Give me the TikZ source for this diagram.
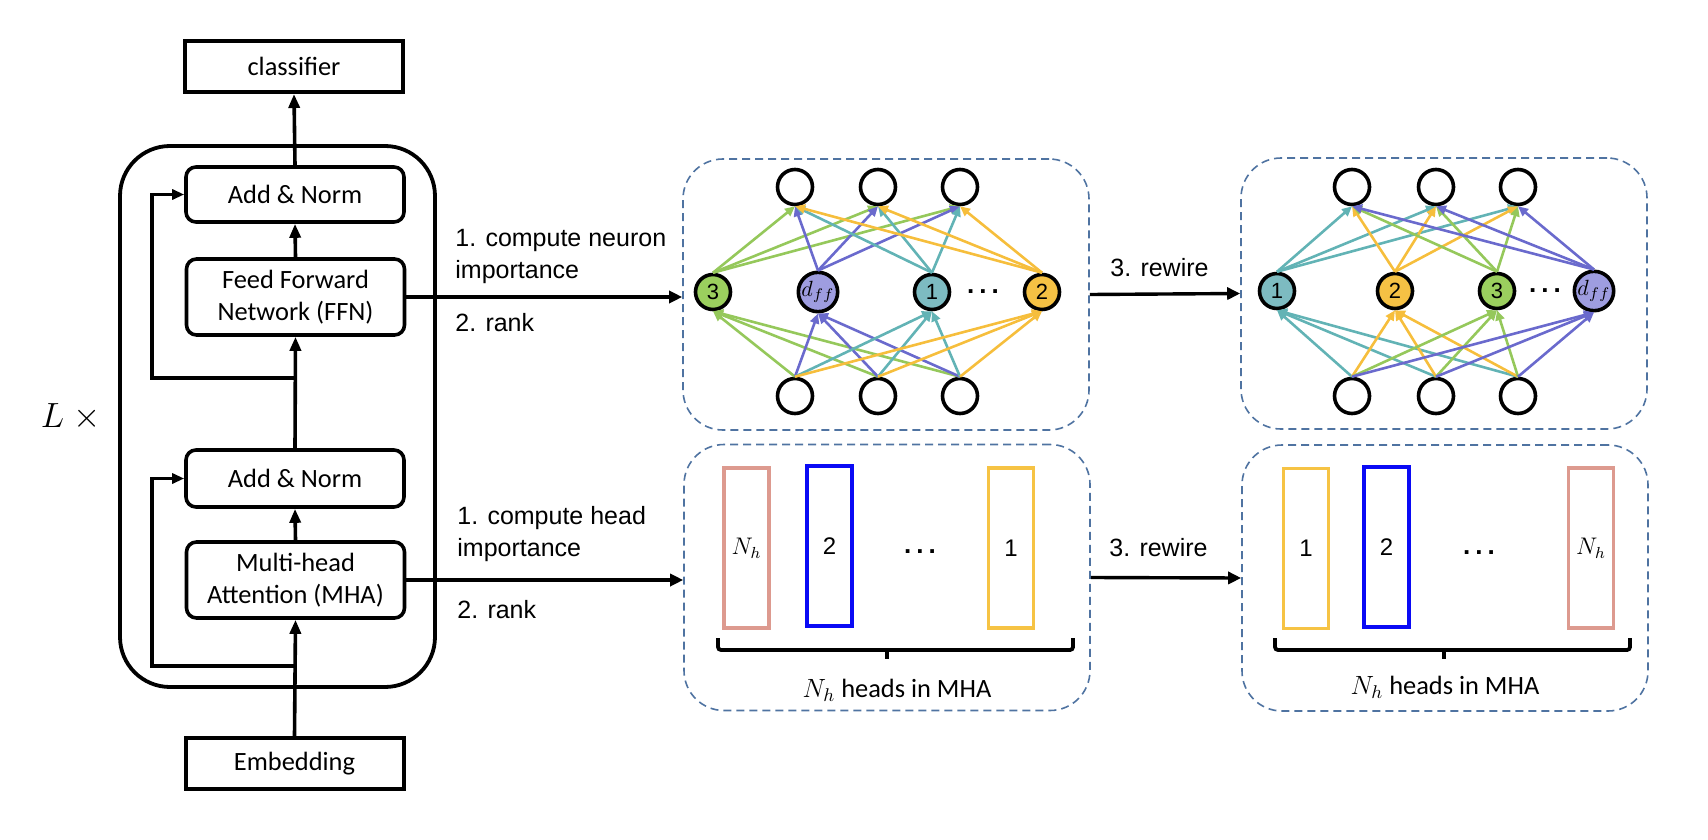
\RequirePackage{fix-cm}
\documentclass[tikz,border=0pt]{standalone}
\usepackage{fontspec}
\setmainfont{Liberation Sans}
\newfontfamily\calibri{Carlito}
\usetikzlibrary{arrows.meta}
\definecolor{egreen}{HTML}{95C85B}
\definecolor{epurple}{HTML}{6A6ACD}
\definecolor{eteal}{HTML}{62B3B5}
\definecolor{eyellow}{HTML}{F6BE3C}
\definecolor{fgreen}{HTML}{9BCF5E}
\definecolor{fpurple}{HTML}{9E9DE0}
\definecolor{fteal}{HTML}{7DBBC1}
\definecolor{fyellow}{HTML}{F5C144}
\definecolor{dashblue}{HTML}{4F73A1}
\definecolor{hsalmon}{HTML}{DD9A8F}
\definecolor{hblue}{HTML}{0A0AF5}
\definecolor{hyellow}{HTML}{F6C344}
\begin{document}
\begin{tikzpicture}[x=0.5pt,y=-0.5pt,
 blk/.style={draw,line width=1.8pt,rounded corners=5pt,minimum width=109pt,inner sep=0pt,align=center,font=\calibri\fontsize{13.2}{16}\selectfont},
 sq/.style={blk,rounded corners=0pt,line width=2pt},
 barr/.style={line width=1.8pt,-{Triangle[length=7pt,width=5.5pt]}},
 sarr/.style={line width=1.7pt,-{Triangle[length=6pt,width=5pt]}},
 parr/.style={line width=1.7pt,-{Triangle[length=6.5pt,width=6pt]}},
 panel/.style={draw=dashblue,line width=0.8pt,dash pattern=on 4pt off 2.5pt,rounded corners=20pt,minimum width=203pt,minimum height=135.5pt,inner sep=0pt},
 nd/.style={circle,draw,line width=1.8pt,minimum size=17.5pt,inner sep=0pt,font=\fontsize{11}{12}\selectfont},
 ed/.style={line width=1.3pt,-{Triangle[length=5pt,width=4.5pt]}},
 hd/.style={draw,line width=1.9pt,minimum width=22.5pt,minimum height=80pt,inner sep=0pt,font=\fontsize{12}{14}\selectfont},
 lbl/.style={font=\fontsize{12.5}{16}\selectfont,align=left,inner sep=0pt,anchor=west},
 dotsty/.style={font=\bfseries\fontsize{13}{13}\selectfont,inner sep=0pt},
 bracesty/.style={line width=1.9pt,rounded corners=1.5pt},
 hlab/.style={font=\calibri\fontsize{13.2}{16}\selectfont,inner sep=0pt}
]
\useasboundingbox (0,0) rectangle (1708,840);

% ---------- transformer block ----------
\node[sq,minimum height=25.5pt] (cls) at (294,66.5) {classifier};
\node[draw,line width=1.9pt,rounded corners=25pt,minimum width=157.5pt,minimum height=270.5pt,inner sep=0pt] (outer) at (277.5,416.5) {};
\node[blk,minimum height=27.5pt] (an1) at (295,194.5) {Add \& Norm};
\node[blk,minimum height=38pt] (ffn) at (295.5,297) {Feed Forward\\Network (FFN)};
\node[blk,minimum height=28.5pt] (an2) at (295,478.5) {Add \& Norm};
\node[blk,minimum height=38pt] (mha) at (295.5,580) {Multi-head\\Attention (MHA)};
\node[sq,minimum height=25.5pt] (emb) at (294.5,763.5) {Embedding};
\node[font=\fontsize{17.5}{20}\selectfont] (lx) at (71,417) {$L\;\times$};

\draw[barr] (emb.north) -- (mha.south);
\draw[barr] (mha.north) -- (an2.south);
\draw[barr] (an2.north) -- (ffn.south);
\draw[barr] (ffn.north) -- (an1.south);
\draw[barr] (an1.north) -- (cls.south);
\coordinate (s1) at (295,378);
\coordinate (k1) at (152,378);
\draw[sarr] (s1) -- (k1) |- (an1.west);
\coordinate (s2) at (295,666);
\coordinate (k2) at (152,666);
\draw[sarr] (s2) -- (k2) |- (an2.west);

% ---------- panels ----------
\node[panel] (p1) at (886,294.5) {};
\node[panel] (p2) at (1444,293.5) {};
\node[panel,minimum height=133pt] (h1) at (887,577.5) {};
\node[panel,minimum height=133pt] (h2) at (1445,578) {};

% ---------- network before rewire ----------
\node[nd] (p1t1) at (795,187) {};
\node[nd] (p1t2) at (878,187) {};
\node[nd] (p1t3) at (960,187) {};
\node[nd] (p1b1) at (795,396) {};
\node[nd] (p1b2) at (878,396) {};
\node[nd] (p1b3) at (960,396) {};
\node[nd,fill=fgreen] (p1m3) at (713,292) {3};
\node[nd,fill=fpurple,font=\fontsize{11}{12}\selectfont] (p1md) at (818,292) {$d_{ff}$};
\node[nd,fill=fteal] (p1m1) at (932,292) {1};
\node[nd,fill=fyellow] (p1m2) at (1042,292) {2};
\node[dotsty] (p1dots) at (983,292) {.\hspace{2.5pt}.\hspace{2.5pt}.};
\foreach \m/\c in {p1m3/egreen,p1md/epurple,p1m1/eteal,p1m2/eyellow}{
  \foreach \t in {p1t1,p1t2,p1t3}{\draw[ed,\c] (\m.north) -- (\t.south);}
  \foreach \b in {p1b1,p1b2,p1b3}{\draw[ed,\c] (\b.north) -- (\m.south);}
}

% ---------- network after rewire ----------
\node[nd] (p2t1) at (1352,187) {};
\node[nd] (p2t2) at (1436,187) {};
\node[nd] (p2t3) at (1518,187) {};
\node[nd] (p2b1) at (1352,396) {};
\node[nd] (p2b2) at (1436,396) {};
\node[nd] (p2b3) at (1518,396) {};
\node[nd,fill=fteal] (p2m1) at (1277,291) {1};
\node[nd,fill=fyellow] (p2m2) at (1395,291) {2};
\node[nd,fill=fgreen] (p2m3) at (1497,291) {3};
\node[nd,fill=fpurple,font=\fontsize{11}{12}\selectfont] (p2md) at (1594,291) {$d_{ff}$};
\node[dotsty] (p2dots) at (1545,291) {.\hspace{2.5pt}.\hspace{2.5pt}.};
\foreach \m/\c in {p2m1/eteal,p2m2/eyellow,p2m3/egreen,p2md/epurple}{
  \foreach \t in {p2t1,p2t2,p2t3}{\draw[ed,\c] (\m.north) -- (\t.south);}
  \foreach \b in {p2b1,p2b2,p2b3}{\draw[ed,\c] (\b.north) -- (\m.south);}
}

% ---------- heads before rewire ----------
\node[hd,draw=hsalmon] (h1a) at (746.5,548) {$N_h$};
\node[hd,draw=hblue] (h1b) at (829.5,546) {2};
\node[dotsty] (h1dots) at (920,552) {.\hspace{2.5pt}.\hspace{2.5pt}.};
\node[hd,draw=hyellow] (h1c) at (1011,548) {1};
\coordinate (h1bl) at (718,638);
\coordinate (h1br) at (1073,638);
\coordinate (h1bt) at (887,650);
\draw[bracesty] (h1bl) -- (h1bl |- h1bt) -- (h1br |- h1bt) -- (h1br);
\draw[line width=1.9pt] (h1bt) -- ++(0,9);
\node[hlab] (h1lab) at (897,690) {$N_h$ heads in MHA};

% ---------- heads after rewire ----------
\node[hd,draw=hyellow] (h2a) at (1306,548.5) {1};
\node[hd,draw=hblue] (h2b) at (1386.5,547) {2};
\node[dotsty] (h2dots) at (1479,553) {.\hspace{2.5pt}.\hspace{2.5pt}.};
\node[hd,draw=hsalmon] (h2c) at (1591,548) {$N_h$};
\coordinate (h2bl) at (1275,638);
\coordinate (h2br) at (1630,638);
\coordinate (h2bt) at (1444,650);
\draw[bracesty] (h2bl) -- (h2bl |- h2bt) -- (h2br |- h2bt) -- (h2br);
\draw[line width=1.9pt] (h2bt) -- ++(0,9);
\node[hlab] (h2lab) at (1445,687) {$N_h$ heads in MHA};

% ---------- main arrows ----------
\draw[parr] (ffn.east) -- (ffn.east -| p1.west);
\draw[parr] (mha.east) -- (mha.east -| h1.west);
\draw[parr] (p1.east) -- (p2.west);
\draw[parr] (h1.east) -- (h2.west);

% ---------- labels ----------
\node[lbl] (t1) at (455,256) {1. compute neuron\\importance};
\node[lbl] (t2) at (455,323) {2. rank};
\node[lbl] (t3) at (457,534) {1. compute head\\importance};
\node[lbl] (t4) at (457,610) {2. rank};
\node[lbl] (t5) at (1110,268) {3. rewire};
\node[lbl] (t6) at (1109,548) {3. rewire};
\end{tikzpicture}
\end{document}
